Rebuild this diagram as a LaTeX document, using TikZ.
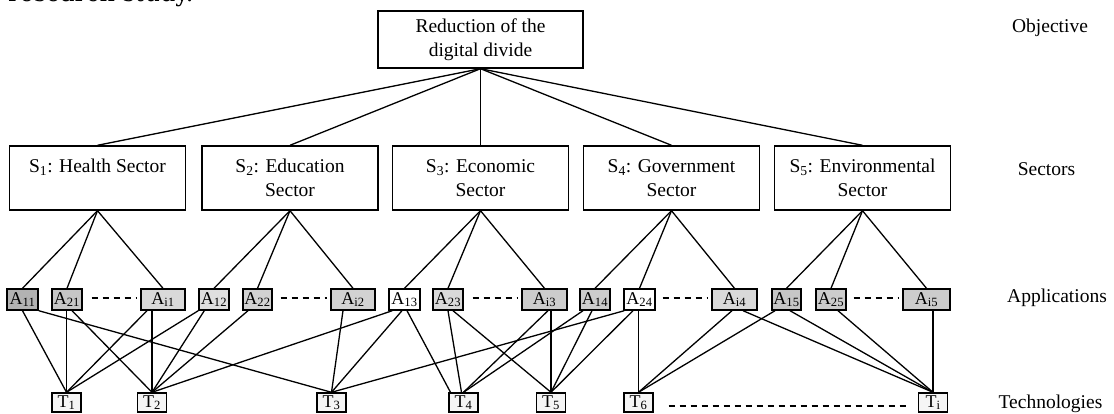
\documentclass[tikz,border=0pt]{standalone}
\usepackage{fontspec}
\setmainfont{Liberation Serif}
\newfontfamily\headfont{DejaVu Serif}
\usetikzlibrary{calc}

\begin{document}
\begin{tikzpicture}[x=1pt,y=-1pt,
  every node/.style={inner sep=0pt, font=\fontsize{19.5}{24}\selectfont},
  box/.style={draw, line width=1.4pt, align=center},
  topbox/.style={box, minimum width=205pt, minimum height=57pt},
  sectorbox/.style={box, minimum width=176pt, minimum height=64pt},
  appbox/.style={draw, line width=1.4pt, minimum height=21pt, font=\fontsize{18}{18}\selectfont},
  techbox/.style={draw, line width=1.4pt, minimum width=29pt, minimum height=19pt, fill=gray!8, font=\fontsize{18}{18}\selectfont},
  link/.style={line width=1.3pt},
  gap/.style={line width=1.1pt, dash pattern=on 6pt off 5pt},
  tierlabel/.style={font=\fontsize{19.5}{24}\selectfont}
]
\useasboundingbox (0,0) rectangle (1114,414);

% running text above the figure
\node[anchor=base west, font=\headfont\fontsize{24}{24}\selectfont] (caption) at (8,1.5) {research study.};

% objective
\node[topbox] (top) at (480.5,39.5) {Reduction of the\\digital divide};

% sectors
\node[sectorbox] (S1) at (97.5,178) {S\textsubscript{1}: Health Sector\\\mbox{}};
\node[sectorbox] (S2) at (290,178) {S\textsubscript{2}: Education\\Sector};
\node[sectorbox] (S3) at (480.5,178) {S\textsubscript{3}: Economic\\Sector};
\node[sectorbox] (S4) at (671.5,178) {S\textsubscript{4}: Government\\Sector};
\node[sectorbox] (S5) at (862.5,178) {S\textsubscript{5}: Environmental\\Sector};

% applications
\node[appbox, minimum width=31pt, fill=gray!60] (A11) at (22.5,299.5) {A\textsubscript{11}};
\node[appbox, minimum width=30pt, fill=gray!45] (A21) at (67,299.5) {A\textsubscript{21}};
\node[appbox, minimum width=44pt, fill=gray!30] (Ai1) at (163,299.5) {A\textsubscript{i1}};
\node[appbox, minimum width=30pt, fill=gray!25] (A12) at (214,299.5) {A\textsubscript{12}};
\node[appbox, minimum width=29pt, fill=gray!35] (A22) at (257.5,299.5) {A\textsubscript{22}};
\node[appbox, minimum width=44pt, fill=gray!35] (Ai2) at (353,299.5) {A\textsubscript{i2}};
\node[appbox, minimum width=31pt, fill=white] (A13) at (404.5,299.5) {A\textsubscript{13}};
\node[appbox, minimum width=30pt, fill=gray!30] (A23) at (448,299.5) {A\textsubscript{23}};
\node[appbox, minimum width=45pt, fill=gray!40] (Ai3) at (544.5,299.5) {A\textsubscript{i3}};
\node[appbox, minimum width=30pt, fill=gray!40] (A14) at (595,299.5) {A\textsubscript{14}};
\node[appbox, minimum width=31pt, fill=white] (A24) at (639.5,299.5) {A\textsubscript{24}};
\node[appbox, minimum width=45pt, fill=gray!30] (Ai4) at (734.5,299.5) {A\textsubscript{i4}};
\node[appbox, minimum width=29pt, fill=gray!45] (A15) at (786.5,299.5) {A\textsubscript{15}};
\node[appbox, minimum width=30pt, fill=gray!40] (A25) at (831,299.5) {A\textsubscript{25}};
\node[appbox, minimum width=47pt, fill=gray!40] (Ai5) at (926.5,299.5) {A\textsubscript{i5}};

% technologies
\node[techbox] (T1) at (66.5,402.5) {T\textsubscript{1}};
\node[techbox] (T2) at (152,402.5) {T\textsubscript{2}};
\node[techbox] (T3) at (331.5,402.5) {T\textsubscript{3}};
\node[techbox] (T4) at (463.5,402.5) {T\textsubscript{4}};
\node[techbox] (T5) at (551,402.5) {T\textsubscript{5}};
\node[techbox] (T6) at (638.5,402.5) {T\textsubscript{6}};
\node[techbox] (Ti) at (933,402.5) {T\textsubscript{i}};

% tier labels
\node[tierlabel] (lobj) at (1050,28) {Objective};
\node[tierlabel] (lsec) at (1046.5,169) {Sectors};
\node[tierlabel] (lapp) at (1057,298) {Applications};
\node[tierlabel] (ltec) at (1050.5,404) {Technologies};

% objective to sectors
\foreach \s in {S1,S2,S3,S4,S5}
  \draw[link] (top.south) -- (\s.north);

% sectors to applications
\foreach \s/\n in {S1/1,S2/2,S3/3,S4/4,S5/5}
  \foreach \a in {A1\n,A2\n,Ai\n}
    \draw[link] (\s.south) -- (\a.north);

% omitted applications
\draw[gap] ($(A21.east)+(9,-1.5)$) -- ($(Ai1.west)+(-4,-1.5)$);
\draw[gap] ($(A22.east)+(8,-1.5)$) -- ($(Ai2.west)+(-3,-1.5)$);
\draw[gap] ($(A23.east)+(9,-1.5)$) -- ($(Ai3.west)+(-4,-1.5)$);
\draw[gap] ($(A24.east)+(7,-1.5)$) -- ($(Ai4.west)+(-4,-1.5)$);
\draw[gap] ($(A25.east)+(7,-1.5)$) -- ($(Ai5.west)+(-3,-1.5)$);
% omitted technologies
\draw[gap] ($(T6.east)+(15,3.5)$) -- ($(Ti.west)+(-11,3.5)$);

% applications to technologies
\draw[link] (A11.south) -- (T1.north);
\draw[link] (A11.south east) -- (T3.north);
\draw[link] (T1 |- A21.south) -- (T1.north);
\draw[link] ($(A21.south)+(5,0)$) -- (T2.north);
\draw[link] ($(Ai1.south)+(-16,0)$) -- (T1.north);
\draw[link] (T2 |- Ai1.south) -- (T2.north);
\draw[link] (A12.south west) -- (T1.north);
\draw[link] ($(A12.south west)+(6,0)$) -- (T2.north);
\draw[link] ($(A22.south)+(-9.5,0)$) -- (T2.north);
\draw[link] ($(Ai2.south)+(-10,0)$) -- (T3.north);
\draw[link] ($(A13.south west)+(4,0)$) -- (T2.north);
\draw[link] ($(A13.south)+(-2.5,0)$) -- (T3.north);
\draw[link] ($(A13.south)+(2.5,0)$) -- ($(T4.north)+(-13,0)$);
\draw[link] (A23.south) -- ($(T4.north)+(-2,0)$);
\draw[link] ($(A23.south)+(5,0)$) -- (T5.north);
\draw[link] ($(Ai3.south)+(3.5,0)$) -- (T4.north);
\draw[link] (T5 |- Ai3.south) -- (T5.north);
\draw[link] ($(A14.south)+(-12,0)$) -- (T4.north);
\draw[link] ($(A14.south)+(-3,0)$) -- (T5.north);
\draw[link] ($(A24.south west)+(1,0)$) -- (T3.north);
\draw[link] ($(A24.south)+(-6.5,0)$) -- (T5.north);
\draw[link] (T6 |- A24.south) -- (T6.north);
\draw[link] ($(Ai4.south)+(-2.5,0)$) -- (T6.north);
\draw[link] ($(Ai4.south)+(8.5,0)$) -- (Ti.north);
\draw[link] ($(A15.south)+(-11.5,0)$) -- (T6.north);
\draw[link] ($(A15.south)+(3.5,0)$) -- (Ti.north);
\draw[link] ($(A25.south)+(7,0)$) -- (Ti.north);
\draw[link] (Ti |- Ai5.south) -- (Ti.north);
\end{tikzpicture}
\end{document}
